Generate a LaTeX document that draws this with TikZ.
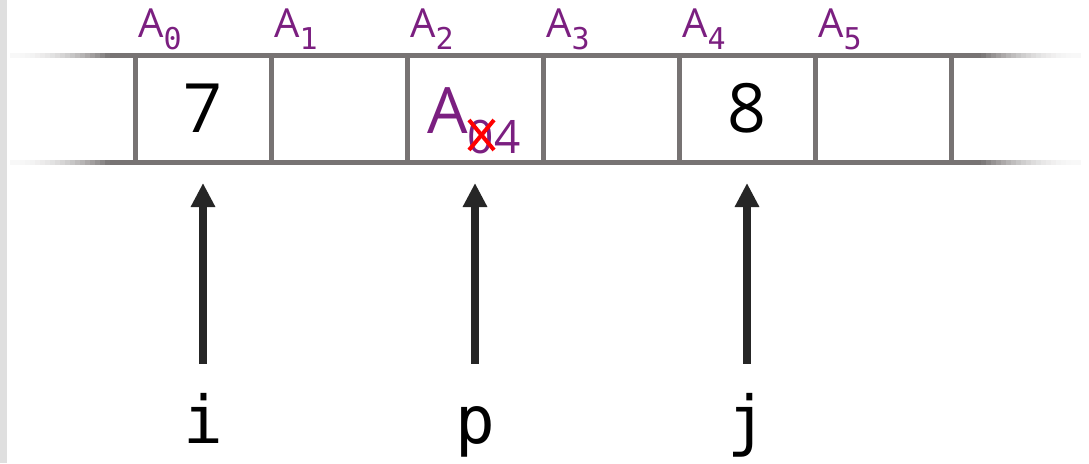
\documentclass[tikz,border=0pt]{standalone}
\usepackage{fontspec}
\usetikzlibrary{arrows.meta}
\newfontfamily\labfont{Open Sans}
\newfontfamily\ptrfont{DejaVu Sans Mono}
\definecolor{linegray}{HTML}{777373}
\definecolor{idxpurple}{HTML}{7B1F80}
\definecolor{ptrblack}{HTML}{262626}
\tikzset{
  cell/.style = {draw = linegray, line width = 5pt, minimum width = 136pt,
    minimum height = 107pt, inner sep = 0pt, font = \labfont\fontsize{68}{68}\selectfont},
  idx/.style = {anchor = base west, inner sep = 0pt, text = idxpurple,
    font = \labfont\fontsize{40}{40}\selectfont},
  ptrlab/.style = {anchor = base, inner sep = 0pt, text height = 50pt,
    font = \ptrfont\fontsize{66}{66}\selectfont},
  ptr/.style = {ptrblack, line width = 8pt,
    -{Triangle[width = 23pt, length = 24pt]}, shorten < = 29pt, shorten >= 18.5pt}
}
\begin{document}
\begin{tikzpicture}[x = 1pt, y = -1pt]
  \useasboundingbox[fill = white] (0,0) rectangle (1089,463);
  \fill[gray!25] (0,0) rectangle (7,463);

  % draws the fading ends of the array
  \foreach \y in {55,162} {
    \foreach \s in {0,...,19} {
      \pgfmathsetmacro{\pct}{5+\s*\s/4}
      \fill[linegray!\pct] (10+5*\s,\y-2.5) rectangle (15.5+5*\s,\y+2.5);
      \fill[linegray!\pct] (1075-5*\s,\y-2.5) rectangle (1080.5-5*\s,\y+2.5);
    }
    \fill[linegray] (110,\y-2.5) rectangle (135,\y+2.5);
    \fill[linegray] (951,\y-2.5) rectangle (981,\y+2.5);
  }

  % draws the cells
  \foreach \val [count = \k from 0] in {7,,,,8,}
    \node[cell] (c\k) at (203+136*\k,108.5) {\raisebox{-1pt}{\val}};

  % draws the indices
  \foreach \k in {0,...,5}
    \node[idx] (a\k) at (138+136*\k,37)
      {A{\ptrfont\fontsize{30}{30}\selectfont\raisebox{-12pt}{\k}}};

  % the value written in A2
  \node[anchor = base west, inner sep = 0pt, text = idxpurple,
    font = \labfont\fontsize{64}{64}\selectfont] (v2) at (427,133)
    {A{\fontsize{46}{46}\selectfont\raisebox{-20pt}{04}}};
  \draw[red, line width = 4pt] (469,120) -- (494,150) (494,120) -- (469,150);

  % draws the pointers
  \foreach \name/\k in {i/0, p/2, j/4} {
    \node[ptrlab] (\name) at (203+136*\k,443) {\name};
    \draw[ptr] (\name.north) -- (c\k.south);
  }
\end{tikzpicture}
\end{document}
